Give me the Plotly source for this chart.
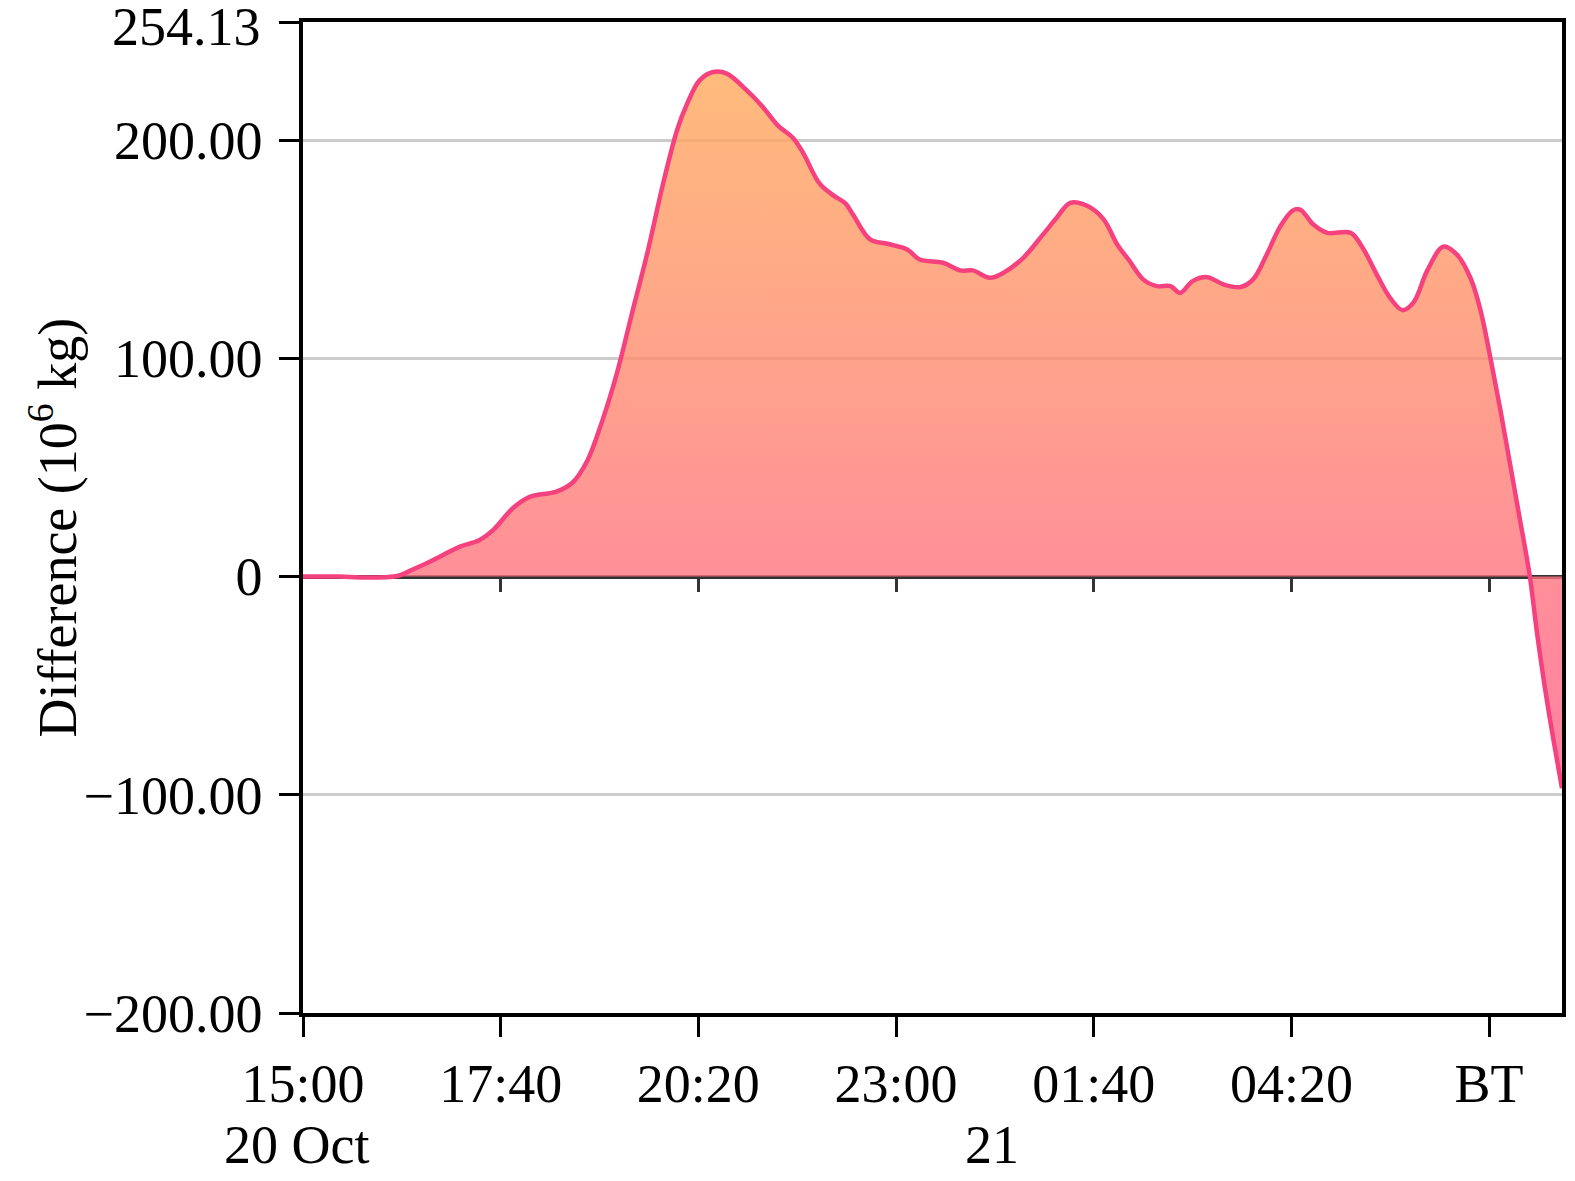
import plotly.graph_objects as go
import pandas as pd

# ---- data ----
times = [
    "2023-10-20 15:00", "2023-10-20 15:30", "2023-10-20 15:46", "2023-10-20 16:06",
    "2023-10-20 16:18", "2023-10-20 16:26", "2023-10-20 16:43", "2023-10-20 17:07",
    "2023-10-20 17:23", "2023-10-20 17:34", "2023-10-20 17:50", "2023-10-20 18:04",
    "2023-10-20 18:25", "2023-10-20 18:38", "2023-10-20 18:50", "2023-10-20 19:02",
    "2023-10-20 19:14", "2023-10-20 19:26", "2023-10-20 19:39", "2023-10-20 19:51",
    "2023-10-20 20:03", "2023-10-20 20:11",
    "2023-10-20 20:21", "2023-10-20 20:32", "2023-10-20 20:43", "2023-10-20 20:59",
    "2023-10-20 21:12", "2023-10-20 21:24", "2023-10-20 21:37", "2023-10-20 21:45",
    "2023-10-20 21:58", "2023-10-20 22:09", "2023-10-20 22:19", "2023-10-20 22:25",
    "2023-10-20 22:39", "2023-10-20 22:53", "2023-10-20 23:09", "2023-10-20 23:19",
    "2023-10-20 23:38", "2023-10-20 23:52", "2023-10-21 00:02", "2023-10-21 00:16",
    "2023-10-21 00:27", "2023-10-21 00:43", "2023-10-21 00:59", "2023-10-21 01:10",
    "2023-10-21 01:21", "2023-10-21 01:35", "2023-10-21 01:48", "2023-10-21 01:59",
    "2023-10-21 02:09", "2023-10-21 02:20", "2023-10-21 02:31", "2023-10-21 02:42",
    "2023-10-21 02:50", "2023-10-21 03:00", "2023-10-21 03:12", "2023-10-21 03:25",
    "2023-10-21 03:39", "2023-10-21 03:49", "2023-10-21 04:00", "2023-10-21 04:11",
    "2023-10-21 04:21", "2023-10-21 04:27", "2023-10-21 04:38", "2023-10-21 04:49",
    "2023-10-21 05:08", "2023-10-21 05:18", "2023-10-21 05:29", "2023-10-21 05:40",
    "2023-10-21 05:50", "2023-10-21 05:59", "2023-10-21 06:10", "2023-10-21 06:23",
    "2023-10-21 06:34", "2023-10-21 06:45", "2023-10-21 06:53", "2023-10-21 07:01",
    "2023-10-21 07:09", "2023-10-21 07:17", "2023-10-21 07:25", "2023-10-21 07:33",
    "2023-10-21 07:39", "2023-10-21 07:47", "2023-10-21 07:59",
]
difference = [
    0.0, 0.0, -0.4, -0.3,
    0.5, 2.5, 6.9, 13.7,
    16.8, 21.4, 31.4, 36.6,
    38.9, 43.0, 53.0, 71.0,
    93.0, 120.0, 149.0, 179.0,
    205.0, 216.8,
    227.4, 231.2, 230.5, 222.9,
    215.3, 206.9, 200.8, 193.9,
    180.2, 174.8, 171.0, 166.0,
    154.5, 152.5, 149.9, 145.3,
    143.8, 140.3, 140.3, 136.9,
    139.2, 146.1, 156.8, 164.4,
    171.3, 169.8, 163.7, 152.2,
    144.6, 136.2, 133.1, 133.1,
    130.0, 135.4, 137.2, 133.9,
    132.7, 136.2, 147.6, 160.5,
    167.7, 168.2, 161.2, 157.5,
    157.5, 150.3, 138.5, 127.6,
    122.1, 125.8, 140.3, 151.2,
    147.5, 136.7, 122.1, 100.4,
    76.8, 51.4, 26.0, 0.0,
    -26.7, -57.5, -97.0,
]

x_tickvals = ["2023-10-20 15:00", "2023-10-20 17:40", "2023-10-20 20:20",
              "2023-10-20 23:00", "2023-10-21 01:40", "2023-10-21 04:20",
              "2023-10-21 07:00"]
x_ticktext = ["15:00", "17:40", "20:20", "23:00", "01:40", "04:20", "BT"]
date_labels = ["20 Oct", "21"]
date_label_x = ["2023-10-20 15:00", "2023-10-21 00:18"]
date_label_shift = [-7, 0]
x_range = ["2023-10-20 15:00", "2023-10-21 07:59"]

y_tickvals = [-200, -100, 0, 100, 200, 254.13]
y_ticktext = ["\u2212200.00", "\u2212100.00", "0", "100.00", "200.00", ""]
y_top_value = 254.13
y_top_label = "254.13"
y_range = [-200, 254.14]
y_title = "Difference (10<sup>6</sup> kg)"

FONT = "Liberation Serif"
FS = 54

fig = go.Figure()
fig.add_trace(go.Scatter(
    x=pd.to_datetime(times), y=difference,
    mode="lines",
    line=dict(color="#F6417F", width=4.5, shape="spline", smoothing=1.0),
    fill="tozeroy",
    fillgradient=dict(
        type="vertical",
        start=-100, stop=232,
        colorscale=[
            [0.0, "rgba(255,96,139,0.8)"],
            [0.30, "rgba(255,115,127,0.8)"],
            [0.60, "rgba(255,139,110,0.8)"],
            [1.0, "rgba(255,170,91,0.8)"],
        ],
    ),
    hoverinfo="skip",
    showlegend=False,
))
# invisible copy so the zero-line tick axis is drawn
fig.add_trace(go.Scatter(
    x=pd.to_datetime(times), y=difference, xaxis="x2",
    mode="lines", line=dict(width=0, color="rgba(0,0,0,0)"),
    hoverinfo="skip", showlegend=False,
))

annotations = [
    dict(text=t, x=xv, xref="x", xshift=s, y=-0.133, yref="paper",
         yanchor="middle", xanchor="center", showarrow=False,
         font=dict(family=FONT, size=FS))
    for t, xv, s in zip(date_labels, date_label_x, date_label_shift)
]
annotations.append(dict(
    text=y_title, textangle=-90, x=0, xref="paper", xshift=-249,
    y=0.5, yref="paper", yshift=-10, xanchor="center", yanchor="middle",
    showarrow=False, font=dict(family=FONT, size=54),
))
annotations.append(dict(
    text=y_top_label, x=0, xref="paper", xshift=-40, xanchor="right",
    y=y_top_value, yref="y", yshift=-5, yanchor="middle",
    showarrow=False, font=dict(family=FONT, size=FS),
))

fig.update_layout(
    width=1575, height=1181,
    margin=dict(l=303, r=13, t=22, b=168),
    paper_bgcolor="white", plot_bgcolor="white",
    font=dict(family=FONT, size=FS, color="black"),
    xaxis=dict(
        type="date", range=x_range, automargin=False,
        tickvals=x_tickvals, ticktext=x_ticktext,
        showgrid=False, zeroline=False,
        showline=True, linecolor="black", linewidth=3.5, mirror=True,
        ticks="outside", ticklen=20, tickwidth=3, tickcolor="black",
        tickfont=dict(family=FONT, size=FS),
        ticklabeloverflow="allow",
    ),
    xaxis2=dict(
        type="date", range=x_range, overlaying="x", matches="x",
        anchor="free", position=200 / 454.14, automargin=False,
        tickvals=x_tickvals[1:], showticklabels=False,
        showgrid=False, zeroline=False, showline=False,
        ticks="outside", ticklen=14, tickwidth=3, tickcolor="#333333",
    ),
    yaxis=dict(
        range=y_range, automargin=False,
        tickvals=y_tickvals, ticktext=y_ticktext,
        showgrid=True, gridcolor="#CCCCCC", gridwidth=2.5,
        zeroline=True, zerolinecolor="#333333", zerolinewidth=3.5,
        showline=True, linecolor="black", linewidth=3.5, mirror=True,
        ticks="outside", ticklen=20, tickwidth=3, tickcolor="black",
        tickfont=dict(family=FONT, size=FS),
        ticklabelstandoff=6,
        ticklabeloverflow="allow",
    ),
    annotations=annotations,
)

fig.write_html("out.html",
               config={"displayModeBar": False},
               post_script="document.body.style.margin='0';"
                           "document.body.style.overflow='hidden';")
